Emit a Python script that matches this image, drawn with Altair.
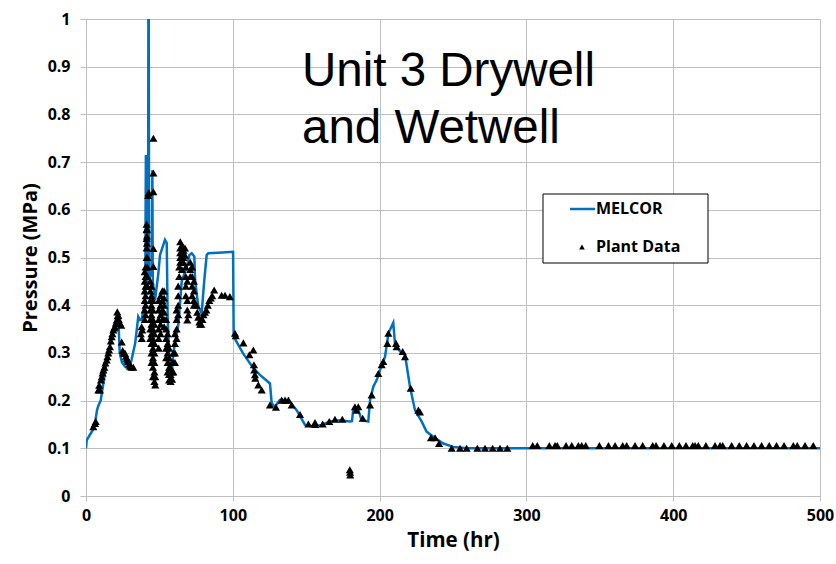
import altair as alt
import pandas as pd

# ---------------- data ----------------
mel_t = [0, 0.5, 3, 5, 6.5, 7.5, 8.5, 10, 11, 12.5, 14, 16, 18, 20, 21.5, 22.2, 23, 24.5, 27, 29.5,
         31, 33.5, 35.6, 36.8, 38, 39, 40.3, 40.8, 41.3, 41.8, 42.3, 42.6, 43.0, 43.6, 44.8, 45.2,
         45.5, 47, 49.3, 50.4, 53.8, 55, 55.6, 57.2, 58.4, 59.5, 62.9, 65.2, 68.6, 70.4, 72, 73.8,
         74.3, 76.5, 78.8, 80.5, 82.2, 83.3, 90, 100.2, 100.6, 102.6, 107, 114, 118.5, 125.3, 126.5,
         128.7, 132, 137.8, 143.5, 149.2, 154.8, 160.6, 166.2, 173, 179.8, 181.2, 182, 185.5, 187.8,
         192.3, 193.5, 195.7, 198, 200.3, 203.7, 206, 209.3, 210.5, 213.9, 217.3, 220.7, 224.1,
         228.7, 232, 236.6, 243.4, 250.2, 260, 500]
mel_p = [0.10, 0.117, 0.13, 0.14, 0.16, 0.18, 0.19, 0.20, 0.22, 0.25, 0.28, 0.31, 0.34, 0.36, 0.365,
         0.36, 0.30, 0.28, 0.27, 0.268, 0.285, 0.32, 0.376, 0.369, 0.37, 0.39, 0.40, 0.715, 0.45,
         0.45, 0.50, 1.3, 0.47, 0.46, 0.47, 0.683, 0.45, 0.41, 0.467, 0.505, 0.537, 0.53, 0.38,
         0.243, 0.257, 0.30, 0.36, 0.45, 0.48, 0.505, 0.509, 0.502, 0.453, 0.397, 0.383, 0.45,
         0.505, 0.509, 0.51, 0.512, 0.334, 0.323, 0.299, 0.268, 0.254, 0.236, 0.194, 0.187, 0.201,
         0.201, 0.18, 0.149, 0.145, 0.149, 0.156, 0.159, 0.156, 0.157, 0.18, 0.18, 0.159, 0.156,
         0.201, 0.229, 0.243, 0.264, 0.292, 0.341, 0.363, 0.32, 0.303, 0.296, 0.229, 0.18, 0.156,
         0.135, 0.124, 0.11, 0.103, 0.10, 0.10]

plant_t = [
    5.0, 6.1, 6.6, 8.4, 9.0, 9.5, 10.2, 10.7, 11.3, 11.8, 12.5, 13.2, 14.1, 14.6, 15.2, 15.7, 16.3,
    16.9, 17.5, 18.0, 18.6, 19.2, 19.7, 20.3, 20.9, 21.3, 21.6, 22.0, 22.3, 23.2, 24.0, 24.3, 25.0,
    25.6, 26.6, 27.2, 27.7, 28.3, 28.8, 29.5, 30.0, 31.0, 32.2,
    37.3, 37.9, 38.3, 38.0,
    40.0, 40.0, 40.0, 40.0, 40.0, 40.0,
    40.6, 40.6, 40.6, 40.6, 40.6, 40.6,
    41.3, 41.3, 41.3, 41.3, 41.3,
    41.8, 41.8, 41.8, 41.8,
    41.5, 41.5, 41.5, 42.3, 42.7,
    45.9, 45.9, 45.9, 45.9, 45.9,
    43.8, 43.8, 43.8, 43.8, 43.8, 43.8, 43.8,
    44.6, 44.6, 44.6, 44.6, 44.6, 44.6, 44.6, 44.6, 44.6,
    45.6, 45.6, 45.6, 45.6, 45.6, 45.6, 45.6, 45.6, 45.6,
    46.6, 46.6, 46.6, 46.6, 46.6, 46.6, 46.6,
    47.2, 47.2,
    49.5, 49.5, 49.5, 49.5, 49.5, 49.5,
    50.8, 50.8, 50.8, 50.8, 50.8,
    52.0, 52.0, 52.0, 52.0,
    53.2, 53.2, 53.2, 53.2, 53.2, 53.2,
    54.6, 54.6, 54.6, 54.6, 54.6,
    55.6, 55.6, 55.6, 55.6, 55.6,
    56.6, 56.6, 56.6, 56.6, 56.6,
    57.6, 57.6, 57.6,
    58.6, 58.6, 58.6,
    59.5, 59.5, 59.5,
    60.6, 60.6, 60.6, 60.6,
    61.7, 61.7, 61.7, 61.7,
    62.8, 62.8, 62.8, 62.8,
    63.5, 63.5,
    64.2, 64.2, 64.2, 64.2, 64.2,
    65.3, 65.3, 65.3, 65.3, 65.3,
    66.4, 66.4, 66.4,
    67.4, 67.4,
    68.0, 68.0, 68.0, 68.0,
    69.0, 69.0, 69.0, 69.0,
    69.7,
    71.0, 71.0, 71.0,
    72.3, 72.3, 72.3, 72.3,
    73.5, 73.5, 73.5, 73.5,
    75.3, 75.8, 76.5, 77.2, 77.8, 78.5, 79.3, 80.0,
    81, 82, 83, 84, 85, 86, 87.3, 92.4, 94.7, 98,
    101.5, 102, 107.2, 111.3, 114, 114.4, 114.6, 115.1, 115.3, 117.4, 119.7, 125.3, 129.4, 133.3,
    135.6, 137.9, 140.1, 145.8, 151.5, 156, 156.2, 161.2, 165.7, 169.6, 174.6, 179.7, 179.9, 180.0,
    183.2, 184.2, 185.5, 188.5, 193.5, 194.6, 199.1, 201.4, 202.5, 205.3, 206, 211.2, 211.6, 215.7,
    217.3, 221.2, 226.4, 227.5, 235, 237.8, 240.5, 249.1, 254.8, 259.3, 266.6, 271.8, 277, 282, 287,
    304.3, 307.4, 315.6, 319.5, 321, 327, 330.9, 335.4, 337.7, 340.4, 349.7, 355.9, 360.4, 365.6,
    368.3, 374, 379.2, 386, 388.3, 393.7, 399, 404.2, 408.7, 413.3, 414.9, 417.1, 422.3, 428.5,
    431.9, 433.7, 439.8, 445, 450, 455, 460.2, 465.4, 470.4, 475.5, 481.8, 484.5, 489.8, 495.4]
plant_p = [
    0.145, 0.152, 0.156, 0.222, 0.232, 0.222, 0.243, 0.25, 0.258, 0.264, 0.27, 0.279, 0.285, 0.292,
    0.30, 0.306, 0.313, 0.325, 0.334, 0.34, 0.348, 0.352, 0.355, 0.362, 0.369, 0.386, 0.378, 0.379,
    0.37, 0.362, 0.358, 0.323, 0.305, 0.30, 0.299, 0.293, 0.289, 0.285, 0.282, 0.277, 0.272, 0.27,
    0.27,
    0.34, 0.355, 0.348, 0.33,
    0.37, 0.39, 0.41, 0.43, 0.45, 0.47,
    0.38, 0.40, 0.42, 0.44, 0.46, 0.48,
    0.50, 0.52, 0.54, 0.558, 0.57,
    0.44, 0.46, 0.48, 0.50,
    0.53, 0.545, 0.56, 0.63, 0.636,
    0.75, 0.677, 0.638, 0.519, 0.481,
    0.45, 0.43, 0.41, 0.39, 0.37, 0.35, 0.33,
    0.44, 0.42, 0.40, 0.38, 0.36, 0.34, 0.32, 0.30, 0.28,
    0.41, 0.39, 0.37, 0.35, 0.33, 0.31, 0.29, 0.27, 0.25,
    0.36, 0.34, 0.32, 0.30, 0.28, 0.26, 0.24,
    0.25, 0.233,
    0.41, 0.39, 0.37, 0.35, 0.33, 0.31,
    0.42, 0.40, 0.38, 0.36, 0.34,
    0.43, 0.41, 0.39, 0.37,
    0.43, 0.415, 0.40, 0.385, 0.37, 0.355,
    0.37, 0.35, 0.33, 0.31, 0.29,
    0.34, 0.32, 0.30, 0.28, 0.26,
    0.31, 0.29, 0.27, 0.255, 0.243,
    0.27, 0.255, 0.24,
    0.28, 0.26, 0.245,
    0.30, 0.28, 0.26,
    0.28, 0.30, 0.32, 0.34,
    0.33, 0.35, 0.37, 0.39,
    0.38, 0.40, 0.42, 0.44,
    0.46, 0.48,
    0.533, 0.52, 0.51, 0.50, 0.49,
    0.525, 0.51, 0.50, 0.49, 0.475,
    0.515, 0.50, 0.49,
    0.52, 0.505,
    0.48, 0.46, 0.44, 0.42,
    0.45, 0.41, 0.39, 0.369,
    0.38,
    0.49, 0.475, 0.46,
    0.48, 0.46, 0.44, 0.42,
    0.45, 0.43, 0.41, 0.40,
    0.40, 0.385, 0.375, 0.365, 0.36, 0.36, 0.37, 0.38,
    0.385, 0.39, 0.40, 0.41, 0.415, 0.42, 0.432, 0.421, 0.421, 0.418,
    0.341, 0.336, 0.321, 0.296, 0.306, 0.275, 0.264, 0.254, 0.247, 0.233, 0.222, 0.191, 0.186, 0.201,
    0.201, 0.201, 0.191, 0.171, 0.151, 0.154, 0.150, 0.151, 0.156, 0.161, 0.161, 0.055, 0.05, 0.044,
    0.187, 0.180, 0.187, 0.163, 0.191, 0.212, 0.257, 0.275, 0.282, 0.320, 0.341, 0.320, 0.313, 0.303,
    0.292, 0.226, 0.180, 0.176, 0.122, 0.122, 0.110, 0.10, 0.10, 0.10, 0.10, 0.10, 0.10, 0.10, 0.10,
    0.106, 0.106, 0.106, 0.106, 0.106, 0.106, 0.106, 0.106, 0.106, 0.106, 0.106, 0.106, 0.106, 0.106,
    0.106, 0.106, 0.106, 0.106, 0.106, 0.106, 0.106, 0.106, 0.106, 0.106, 0.106, 0.106, 0.106, 0.106,
    0.106, 0.106, 0.106, 0.106, 0.106, 0.106, 0.106, 0.106, 0.106, 0.106, 0.106, 0.106, 0.106, 0.106]

x_ticks = [0, 100, 200, 300, 400, 500]
y_ticks = [0, 0.1, 0.2, 0.3, 0.4, 0.5, 0.6, 0.7, 0.8, 0.9, 1]
title_lines = ["Unit 3 Drywell", "and Wetwell"]
legend_labels = ["MELCOR", "Plant Data"]

BLUE = "#0070C0"
GRID = "#BFBFBF"
FONT = "Open Sans"

mel_df = pd.DataFrame({"t": mel_t, "p": mel_p})
plant_df = pd.DataFrame({"t": plant_t, "p": plant_p})

xscale = alt.Scale(domain=[0, 500], nice=False, zero=False)
yscale = alt.Scale(domain=[0, 1], nice=False)

xaxis = alt.Axis(values=x_ticks, title="Time (hr)", grid=True, gridColor=GRID, domain=False,
                 tickColor=GRID, tickSize=5, labelFont=FONT, labelFontSize=16, labelFontWeight="bold",
                 labelColor="black", labelPadding=6, titleFont=FONT, titleFontSize=20.5,
                 titleFontWeight="bold", titleColor="black", titlePadding=7, labelFlush=False)
yaxis = alt.Axis(values=y_ticks, title="Pressure (MPa)", format="~g", grid=True, gridColor=GRID,
                 domain=False, tickColor=GRID, tickSize=6, labelFont=FONT, labelFontSize=16,
                 labelFontWeight="bold", labelColor="black", labelPadding=10, titleFont=FONT,
                 titleFontSize=20, titleFontWeight="bold", titleColor="black", titlePadding=7,
                 labelFlush=False)

line = alt.Chart(mel_df).mark_line(color=BLUE, strokeWidth=2.5, clip=True).encode(
    x=alt.X("t:Q", scale=xscale, axis=xaxis),
    y=alt.Y("p:Q", scale=yscale, axis=yaxis),
    order="t:Q",
)

points = alt.Chart(plant_df).mark_point(shape="triangle-up", filled=True, color="black",
                                        size=66, opacity=1, clip=True).encode(
    x=alt.X("t:Q", scale=xscale),
    y=alt.Y("p:Q", scale=yscale),
)

title_df = pd.DataFrame({"txt": ["\n".join(title_lines)]})
title = alt.Chart(title_df).mark_text(font="Liberation Sans", fontSize=47.5, align="left",
                                      baseline="alphabetic", lineBreak="\n", lineHeight=57,
                                      color="black").encode(
    x=alt.value(216), y=alt.value(67), text="txt:N")

# legend box
leg_df = pd.DataFrame({"lab": legend_labels})
box = alt.Chart(pd.DataFrame({"k": [0]})).mark_rect(fill="white", stroke="black",
                                                    strokeWidth=1).encode(
    x=alt.value(457), x2=alt.value(622), y=alt.value(175), y2=alt.value(244))
leg_line = alt.Chart(pd.DataFrame({"k": [0]})).mark_rule(color=BLUE, strokeWidth=2.5).encode(
    x=alt.value(484), x2=alt.value(509), y=alt.value(190))
leg_tri = alt.Chart(pd.DataFrame({"k": [0]})).mark_point(shape="triangle-up", filled=True,
                                                         color="black", size=32, opacity=1).encode(
    x=alt.value(496), y=alt.value(228))
leg_text1 = alt.Chart(leg_df.iloc[[0]]).mark_text(font=FONT, fontSize=16, fontWeight="bold",
                                                  align="left", baseline="middle",
                                                  color="black").encode(
    x=alt.value(510), y=alt.value(190), text="lab:N")
leg_text2 = alt.Chart(leg_df.iloc[[1]]).mark_text(font=FONT, fontSize=16, fontWeight="bold",
                                                  align="left", baseline="middle",
                                                  color="black").encode(
    x=alt.value(510), y=alt.value(228), text="lab:N")

chart = alt.layer(line, points, title, box, leg_line, leg_tri, leg_text1, leg_text2).properties(
    width=734, height=477,
    autosize=alt.AutoSizeParams(type="none"),
    padding={"left": 86, "top": 19, "right": 16, "bottom": 68},
).configure_view(stroke=None).configure(background="white")

chart.save("out.html", embed_options={"renderer": "svg", "actions": False})
